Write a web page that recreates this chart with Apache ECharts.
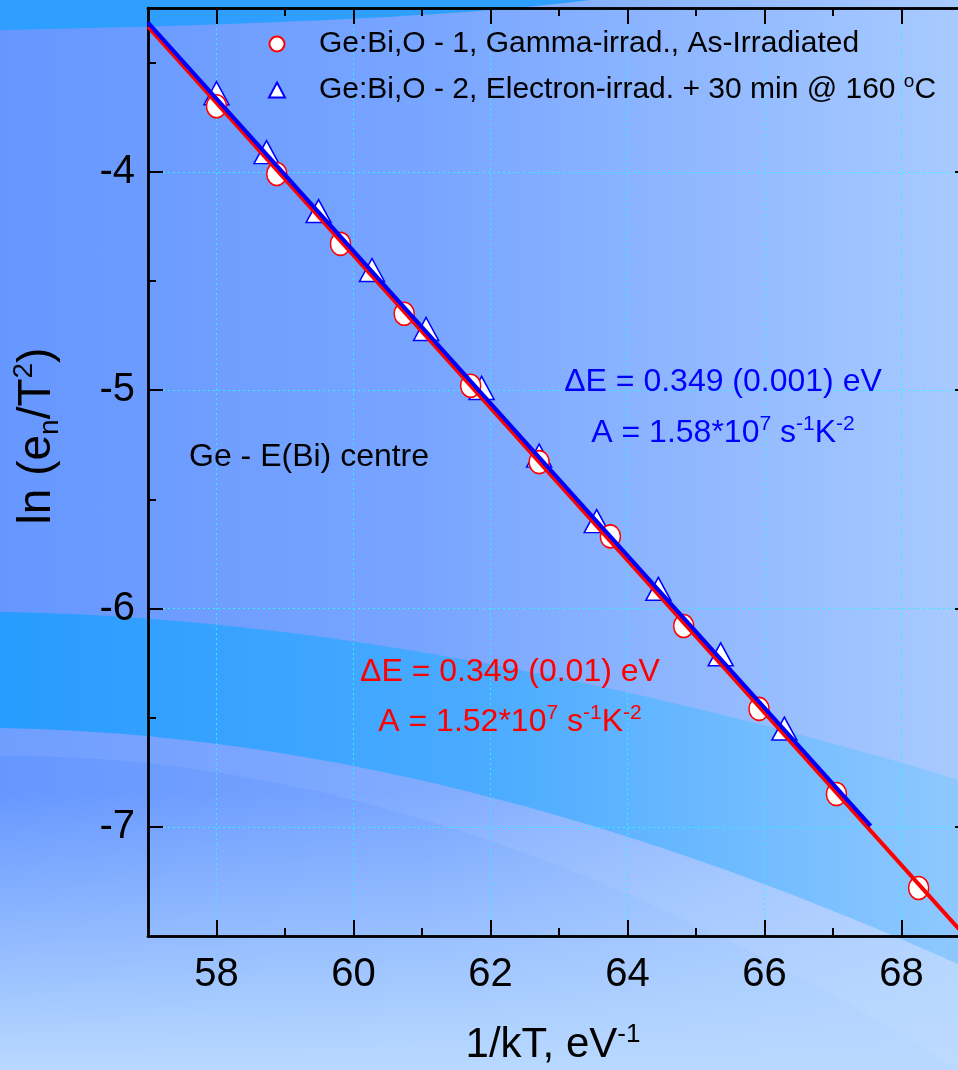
<!DOCTYPE html>
<html>
<head>
<meta charset="utf-8">
<script src="https://cdn.jsdelivr.net/npm/echarts@6/dist/echarts.min.js"></script>
<style>
  html, body { margin: 0; padding: 0; }
  #chart {
    width: 958px;
    height: 1070px;
    background:
      linear-gradient(to bottom, rgba(184, 217, 255, 0) 0%, rgba(184, 217, 255, 0) 74%, rgba(184, 217, 255, 1) 100%),
      linear-gradient(to right, #6697ff 0%, #78a5ff 45%, #a8caff 100%);
  }
</style>
</head>
<body>
<div id="chart"></div>
<script>
// data
const gammaX = [58.00, 58.88, 59.81, 60.74, 61.71, 62.71, 63.75, 64.82, 65.92, 67.05, 68.25]
const gammaY = [-3.70, -4.01, -4.33, -4.65, -4.98, -5.33, -5.67, -6.08, -6.46, -6.85, -7.28]
const electronX = [58.00, 58.73, 59.49, 60.27, 61.06, 61.87, 62.71, 63.55, 64.45, 65.36, 66.29]
const electronY = [-3.64, -3.91, -4.18, -4.45, -4.72, -4.99, -5.30, -5.60, -5.91, -6.21, -6.55]
// fitted straight lines, end points
const gammaFitX = [57, 68.93]
const gammaFitY = [-3.336, -7.5]
const electronFitX = [57, 67.55]
const electronFitY = [-3.317, -6.996]
// ticks
const xMajor = [58, 60, 62, 64, 66, 68]
const xMinor = [59, 61, 63, 65, 67]
const yMajor = [-7, -6, -5, -4]
const yMinor = [-6.5, -5.5, -4.5, -3.5]

const gammaName = 'Ge:Bi,O - 1, Gamma-irrad., As-Irradiated'
const electronName = 'Ge:Bi,O - 2, Electron-irrad. + 30 min @ 160 °C'

const FONT = '"Liberation Sans", Arial, sans-serif'
const zip = (xs, ys) => xs.map((x, i) => [x, ys[i]])

// background swooshes (decoration only)
function bezier(p0, c, p1) {
  const pts = []
  for (let i = 0; i <= 30; i++) {
    const t = i / 30, u = 1 - t
    pts.push([u * u * p0[0] + 2 * u * t * c[0] + t * t * p1[0], u * u * p0[1] + 2 * u * t * c[1] + t * t * p1[1]])
  }
  return pts
}
const topBand = [[0, 0]].concat(bezier([0, 30], [420, 22], [590, 0]))
const midBand = bezier([0, 612], [420, 618], [960, 780]).concat(bezier([960, 965], [450, 735], [0, 728]))
const lowBand = bezier([0, 728], [450, 735], [960, 965]).concat(bezier([960, 1070], [450, 752], [0, 756]))

const axisLine = { show: true, lineStyle: { color: '#000', width: 2.5 } }
const gridLine = { show: true, lineStyle: { color: '#2ef0ff', width: 1, type: [2, 3] } }

function xAxis(gridIndex, position, ticks, len) {
  return {
    type: 'value', gridIndex, position, min: 57, max: 69, interval: 1,
    axisLine,
    axisTick: { show: true, inside: true, length: len, customValues: ticks, lineStyle: { color: '#000', width: 2 } },
    axisLabel: { show: false },
    splitLine: { show: false },
  }
}
function yAxis(gridIndex, position, ticks, len) {
  return {
    type: 'value', gridIndex, position, min: -7.5, max: -3.25, interval: 0.5,
    axisLine,
    axisTick: { show: true, inside: true, length: len, customValues: ticks, lineStyle: { color: '#000', width: 2 } },
    axisLabel: { show: false },
    splitLine: { show: false },
  }
}

const supStyle = { fontSize: 21, lineHeight: 14, verticalAlign: 'top', fontFamily: FONT }
function note(text, x, y, color, align) {
  return {
    type: 'text', x, y, z: 100, silent: true,
    style: {
      text, fill: color, fontSize: 32, fontFamily: FONT, lineHeight: 38,
      align: align || 'center', verticalAlign: 'middle',
      rich: { n: { fontSize: 32, lineHeight: 38, fontFamily: FONT }, sup: supStyle },
    },
  }
}

// plot box runs past the right edge of the picture (x = 69 is off canvas)
const plotBox = { left: 148, top: 8, width: 822, height: 928, outerBoundsMode: 'none', containLabel: false }

let myChart = echarts.init(document.getElementById('chart'))
let option = {
  animation: false,
  grid: [Object.assign({}, plotBox), Object.assign({}, plotBox)],
  legend: {
    orient: 'vertical', left: 268, top: 26, padding: 0, itemGap: 10,
    itemWidth: 16, itemHeight: 15,
    data: [gammaName, electronName],
    formatter: (name) => name.replace('°C', '{sup|o}C'),
    textStyle: {
      color: '#000', fontSize: 30, fontFamily: FONT, lineHeight: 36, padding: [0, 0, 0, 29],
      rich: { sup: { fontSize: 19, lineHeight: 10, verticalAlign: 'top', fontFamily: FONT, color: '#000' } },
    },
  },
  xAxis: [
    Object.assign(xAxis(0, 'bottom', xMajor, 16), {
      axisLabel: { show: true, customValues: xMajor, fontSize: 40, fontFamily: FONT, color: '#000', margin: 19 },
      splitLine: gridLine,
      name: '1/kT, eV{sup|-1}',
      nameLocation: 'middle',
      nameGap: 86,
      nameTextStyle: {
        fontSize: 42, fontFamily: FONT, color: '#000', lineHeight: 46, padding: [0, 12, 0, 0],
        rich: { sup: { fontSize: 26, lineHeight: 18, verticalAlign: 'top', fontFamily: FONT, color: '#000' } },
      },
    }),
    xAxis(0, 'top', xMajor, 16),
    xAxis(1, 'bottom', xMinor, 8),
    xAxis(1, 'top', xMinor, 8),
  ],
  yAxis: [
    Object.assign(yAxis(0, 'left', yMajor, 15), {
      axisLabel: { show: true, customValues: yMajor, fontSize: 40, fontFamily: FONT, color: '#000', margin: 13 },
      splitLine: gridLine,
      name: 'ln (e{sub|n}/T{sup|2})',
      nameLocation: 'middle',
      nameRotate: 90,
      nameGap: 84,
      nameTextStyle: {
        fontSize: 46, fontFamily: FONT, color: '#000', lineHeight: 54, padding: [0, 0, 0, 72],
        rich: {
          sub: { fontSize: 28, lineHeight: 14, verticalAlign: 'bottom', fontFamily: FONT, color: '#000' },
          sup: { fontSize: 28, lineHeight: 14, verticalAlign: 'top', fontFamily: FONT, color: '#000' },
        },
      },
    }),
    yAxis(0, 'right', yMajor, 15),
    yAxis(1, 'left', yMinor, 8),
    yAxis(1, 'right', yMinor, 8),
  ],
  graphic: [
    { type: 'polygon', z: -10, silent: true, shape: { points: topBand }, style: { fill: '#2e9fff' } },
    {
      type: 'polygon', z: -10, silent: true, shape: { points: midBand },
      style: {
        fill: new echarts.graphic.LinearGradient(0, 0, 1, 0, [
          { offset: 0, color: '#279bff' },
          { offset: 0.5, color: '#4aabff' },
          { offset: 1, color: '#8fc8ff' },
        ]),
      },
    },
    { type: 'polygon', z: -10, silent: true, shape: { points: lowBand }, style: { fill: 'rgba(255,255,255,0.07)' } },
    note('ΔE = 0.349 (0.001) eV', 723, 382, '#0000ff'),
    note('A = 1.58*10{sup|7} s{sup|-1}K{sup|-2}', 723, 433, '#0000ff'),
    note('ΔE = 0.349 (0.01) eV', 510, 672, '#ff0000'),
    note('A = 1.52*10{sup|7} s{sup|-1}K{sup|-2}', 510, 722, '#ff0000'),
    note('Ge - E(Bi) centre', 189, 457, '#000', 'left'),
  ],
  series: [
    {
      name: electronName,
      type: 'scatter',
      data: zip(electronX, electronY),
      symbol: 'triangle',
      symbolSize: [25, 23],
      itemStyle: { color: '#fff', borderColor: '#0000ff', borderWidth: 1.5, opacity: 1 },
    },
    {
      name: gammaName,
      type: 'scatter',
      data: zip(gammaX, gammaY),
      symbol: 'circle',
      symbolSize: [20, 23],
      itemStyle: { color: '#fff', borderColor: '#ff0000', borderWidth: 1.5, opacity: 1 },
    },
    {
      name: 'gamma fit',
      type: 'line',
      data: zip(gammaFitX, gammaFitY),
      showSymbol: false,
      lineStyle: { color: '#ff0000', width: 4 },
    },
    {
      name: 'electron fit',
      type: 'line',
      data: zip(electronFitX, electronFitY),
      showSymbol: false,
      lineStyle: { color: '#0000ff', width: 4 },
    },
  ],
}
myChart.setOption(option)
</script>
</body>
</html>
